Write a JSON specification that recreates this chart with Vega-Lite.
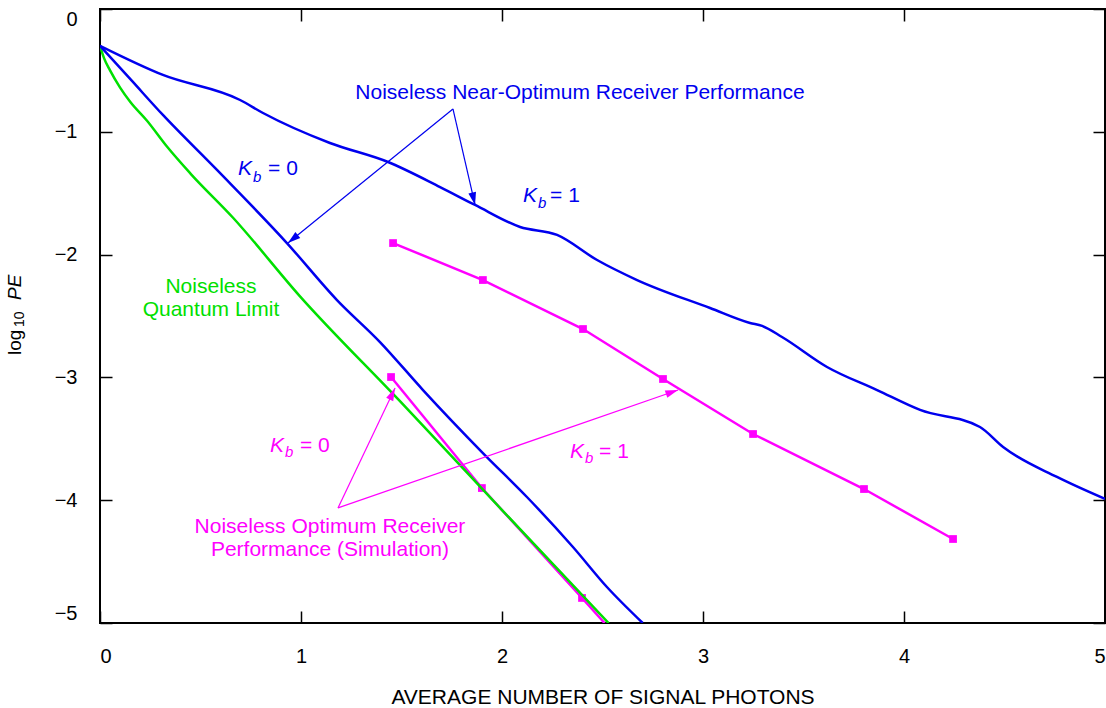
{
  "$schema": "https://vega.github.io/schema/vega-lite/v6.json",
  "width": 1005,
  "height": 614,
  "autosize": {"type": "none"},
  "padding": {"left": 100, "top": 9, "right": 1, "bottom": 85},
  "background": "white",
  "config": {
    "view": {"stroke": "#000", "strokeWidth": 2},
    "font": "Liberation Sans"
  },
  "datasets": {
    "curves": [
      {"curve": "nearK0", "group": "near", "x": 0, "y": -0.30},
      {"curve": "nearK0", "group": "near", "x": 0.158, "y": -0.584},
      {"curve": "nearK0", "group": "near", "x": 0.313, "y": -0.863},
      {"curve": "nearK0", "group": "near", "x": 0.582, "y": -1.311},
      {"curve": "nearK0", "group": "near", "x": 0.93, "y": -1.906},
      {"curve": "nearK0", "group": "near", "x": 1.179, "y": -2.37},
      {"curve": "nearK0", "group": "near", "x": 1.393, "y": -2.712},
      {"curve": "nearK0", "group": "near", "x": 1.607, "y": -3.103},
      {"curve": "nearK0", "group": "near", "x": 1.905, "y": -3.616},
      {"curve": "nearK0", "group": "near", "x": 2.124, "y": -3.974},
      {"curve": "nearK0", "group": "near", "x": 2.353, "y": -4.381},
      {"curve": "nearK0", "group": "near", "x": 2.522, "y": -4.707},
      {"curve": "nearK0", "group": "near", "x": 2.70, "y": -5.0},
      {"curve": "nearK1", "group": "near", "x": 0, "y": -0.30},
      {"curve": "nearK1", "group": "near", "x": 0.313, "y": -0.537},
      {"curve": "nearK1", "group": "near", "x": 0.697, "y": -0.741},
      {"curve": "nearK1", "group": "near", "x": 0.811, "y": -0.847},
      {"curve": "nearK1", "group": "near", "x": 1.144, "y": -1.091},
      {"curve": "nearK1", "group": "near", "x": 1.433, "y": -1.246},
      {"curve": "nearK1", "group": "near", "x": 1.692, "y": -1.45},
      {"curve": "nearK1", "group": "near", "x": 1.866, "y": -1.596},
      {"curve": "nearK1", "group": "near", "x": 2.09, "y": -1.775},
      {"curve": "nearK1", "group": "near", "x": 2.274, "y": -1.84},
      {"curve": "nearK1", "group": "near", "x": 2.473, "y": -2.044},
      {"curve": "nearK1", "group": "near", "x": 2.672, "y": -2.207},
      {"curve": "nearK1", "group": "near", "x": 3.035, "y": -2.435},
      {"curve": "nearK1", "group": "near", "x": 3.234, "y": -2.557},
      {"curve": "nearK1", "group": "near", "x": 3.294, "y": -2.581},
      {"curve": "nearK1", "group": "near", "x": 3.393, "y": -2.671},
      {"curve": "nearK1", "group": "near", "x": 3.617, "y": -2.915},
      {"curve": "nearK1", "group": "near", "x": 3.866, "y": -3.103},
      {"curve": "nearK1", "group": "near", "x": 4.08, "y": -3.265},
      {"curve": "nearK1", "group": "near", "x": 4.378, "y": -3.404},
      {"curve": "nearK1", "group": "near", "x": 4.493, "y": -3.567},
      {"curve": "nearK1", "group": "near", "x": 4.761, "y": -3.811},
      {"curve": "nearK1", "group": "near", "x": 5.0, "y": -3.99},
      {"curve": "quantum", "group": "quantum", "x": 0, "y": -0.30},
      {"curve": "quantum", "group": "quantum", "x": 0.02, "y": -0.40},
      {"curve": "quantum", "group": "quantum", "x": 0.05, "y": -0.50},
      {"curve": "quantum", "group": "quantum", "x": 0.1, "y": -0.64},
      {"curve": "quantum", "group": "quantum", "x": 0.15, "y": -0.755},
      {"curve": "quantum", "group": "quantum", "x": 0.234, "y": -0.91},
      {"curve": "quantum", "group": "quantum", "x": 0.333, "y": -1.12},
      {"curve": "quantum", "group": "quantum", "x": 0.45, "y": -1.34},
      {"curve": "quantum", "group": "quantum", "x": 0.662, "y": -1.70},
      {"curve": "quantum", "group": "quantum", "x": 0.995, "y": -2.34},
      {"curve": "quantum", "group": "quantum", "x": 1.49, "y": -3.19},
      {"curve": "quantum", "group": "quantum", "x": 2.0, "y": -4.08},
      {"curve": "quantum", "group": "quantum", "x": 2.53, "y": -5.0},
      {"curve": "simK1", "group": "sim", "x": 1.458, "y": -1.906},
      {"curve": "simK1", "group": "sim", "x": 1.905, "y": -2.207},
      {"curve": "simK1", "group": "sim", "x": 2.403, "y": -2.606},
      {"curve": "simK1", "group": "sim", "x": 2.801, "y": -3.013},
      {"curve": "simK1", "group": "sim", "x": 3.249, "y": -3.461},
      {"curve": "simK1", "group": "sim", "x": 3.801, "y": -3.909},
      {"curve": "simK1", "group": "sim", "x": 4.244, "y": -4.316},
      {"curve": "simK0", "group": "sim", "x": 1.448, "y": -2.997},
      {"curve": "simK0", "group": "sim", "x": 1.9, "y": -3.901},
      {"curve": "simK0", "group": "sim", "x": 2.398, "y": -4.796},
      {"curve": "simK0", "group": "sim", "x": 2.51, "y": -5.0}
    ],
    "arrows": [
      {"id": "a1", "group": "near", "x": 1.756, "y": -0.814, "x2": 0.935, "y2": -1.906},
      {"id": "a2", "group": "near", "x": 1.756, "y": -0.814, "x2": 1.866, "y2": -1.596},
      {"id": "a3", "group": "sim", "x": 1.184, "y": -4.063, "x2": 1.468, "y2": -3.086},
      {"id": "a4", "group": "sim", "x": 1.184, "y": -4.063, "x2": 2.876, "y2": -3.103}
    ],
    "notes": [
      {"group": "near", "x": 2.388, "y": -0.733, "text": "Noiseless Near-Optimum Receiver Performance"},
      {"group": "quantum", "x": 0.552, "y": -2.313, "text": "Noiseless"},
      {"group": "quantum", "x": 0.552, "y": -2.5, "text": "Quantum Limit"},
      {"group": "sim", "x": 1.144, "y": -4.267, "text": "Noiseless Optimum Receiver"},
      {"group": "sim", "x": 1.144, "y": -4.454, "text": "Performance (Simulation)"}
    ],
    "kMain": [
      {"group": "near", "x": 0.687, "y": -1.352, "text": "K"},
      {"group": "near", "x": 2.104, "y": -1.572, "text": "K"},
      {"group": "sim", "x": 0.846, "y": -3.607, "text": "K"},
      {"group": "sim", "x": 2.338, "y": -3.656, "text": "K"}
    ],
    "kSub": [
      {"group": "near", "x": 0.761, "y": -1.409, "text": "b"},
      {"group": "near", "x": 2.179, "y": -1.621, "text": "b"},
      {"group": "sim", "x": 0.92, "y": -3.648, "text": "b"},
      {"group": "sim", "x": 2.413, "y": -3.697, "text": "b"}
    ],
    "kEq": [
      {"group": "near", "x": 0.836, "y": -1.352, "text": "= 0"},
      {"group": "near", "x": 2.239, "y": -1.572, "text": "= 1"},
      {"group": "sim", "x": 0.995, "y": -3.607, "text": "= 0"},
      {"group": "sim", "x": 2.483, "y": -3.656, "text": "= 1"}
    ]
  },
  "resolve": {"axis": {"x": "independent", "y": "independent"}},
  "layer": [
    {
      "encoding": {
        "x": {
          "field": "x", "type": "quantitative",
          "scale": {"domain": [0, 5], "nice": false, "zero": false},
          "axis": {
            "orient": "bottom", "values": [0, 1, 2, 3, 4, 5], "format": "d",
            "domain": false, "grid": false, "tickSize": -12, "tickWidth": 1.5, "tickColor": "#000",
            "labelPadding": 35, "labelFontSize": 20, "labelFont": "Liberation Sans", "labelColor": "#000",
            "labelFlush": true,
            "title": "AVERAGE NUMBER OF SIGNAL PHOTONS", "titleFont": "Liberation Sans",
            "titleFontSize": 21, "titleFontWeight": "normal", "titleColor": "#000", "titlePadding": 20
          }
        },
        "y": {
          "field": "y", "type": "quantitative",
          "scale": {"domain": [-5, 0], "nice": false, "zero": false},
          "axis": {
            "orient": "left", "values": [0, -1, -2, -3, -4, -5], "format": "d",
            "domain": false, "grid": false, "tickSize": -12, "tickWidth": 1.5, "tickColor": "#000",
            "labelPadding": 35, "labelFontSize": 20, "labelFont": "Liberation Sans", "labelColor": "#000",
            "labelFlush": true, "title": null
          }
        },
        "color": {
          "field": "group", "type": "nominal",
          "scale": {"domain": ["near", "quantum", "sim"], "range": ["#0000ee", "#00e000", "#ff00ff"]},
          "legend": null
        }
      },
      "layer": [
        {
          "data": {"name": "curves"},
          "transform": [{"filter": "datum.group == 'sim'"}],
          "mark": {"type": "line", "strokeWidth": 2.5, "clip": true},
          "encoding": {"detail": {"field": "curve"}}
        },
        {
          "data": {"name": "curves"},
          "transform": [{"filter": "datum.group == 'sim' && datum.y > -4.99"}],
          "mark": {"type": "point", "shape": "square", "filled": true, "opacity": 1, "size": 60, "clip": true}
        },
        {
          "data": {"name": "curves"},
          "transform": [{"filter": "datum.group == 'quantum'"}],
          "mark": {"type": "line", "strokeWidth": 2.5, "clip": true, "interpolate": "monotone"},
          "encoding": {"detail": {"field": "curve"}}
        },
        {
          "data": {"name": "curves"},
          "transform": [{"filter": "datum.group == 'near'"}],
          "mark": {"type": "line", "strokeWidth": 2.5, "clip": true, "interpolate": "monotone"},
          "encoding": {"detail": {"field": "curve"}}
        },
        {
          "data": {"name": "arrows"},
          "mark": {"type": "rule", "strokeWidth": 1.2},
          "encoding": {"x2": {"field": "x2"}, "y2": {"field": "y2"}}
        },
        {
          "data": {"name": "arrows"},
          "transform": [{"filter": "datum.id == 'a1'"}],
          "mark": {"type": "point", "shape": "M0,0L-0.55,1.8L0.55,1.8Z", "filled": true, "opacity": 1, "size": 200, "angle": 231},
          "encoding": {"x": {"field": "x2", "type": "quantitative"}, "y": {"field": "y2", "type": "quantitative"}}
        },
        {
          "data": {"name": "arrows"},
          "transform": [{"filter": "datum.id == 'a2'"}],
          "mark": {"type": "point", "shape": "M0,0L-0.55,1.8L0.55,1.8Z", "filled": true, "opacity": 1, "size": 200, "angle": 167},
          "encoding": {"x": {"field": "x2", "type": "quantitative"}, "y": {"field": "y2", "type": "quantitative"}}
        },
        {
          "data": {"name": "arrows"},
          "transform": [{"filter": "datum.id == 'a3'"}],
          "mark": {"type": "point", "shape": "M0,0L-0.55,1.8L0.55,1.8Z", "filled": true, "opacity": 1, "size": 200, "angle": 25},
          "encoding": {"x": {"field": "x2", "type": "quantitative"}, "y": {"field": "y2", "type": "quantitative"}}
        },
        {
          "data": {"name": "arrows"},
          "transform": [{"filter": "datum.id == 'a4'"}],
          "mark": {"type": "point", "shape": "M0,0L-0.55,1.8L0.55,1.8Z", "filled": true, "opacity": 1, "size": 200, "angle": 71},
          "encoding": {"x": {"field": "x2", "type": "quantitative"}, "y": {"field": "y2", "type": "quantitative"}}
        },
        {
          "data": {"name": "notes"},
          "mark": {"type": "text", "align": "center", "baseline": "alphabetic", "fontSize": 21, "font": "Liberation Sans"},
          "encoding": {"text": {"field": "text"}}
        },
        {
          "data": {"name": "kMain"},
          "mark": {"type": "text", "align": "left", "baseline": "alphabetic", "fontSize": 21, "fontStyle": "italic", "font": "Liberation Sans"},
          "encoding": {"text": {"field": "text"}}
        },
        {
          "data": {"name": "kSub"},
          "mark": {"type": "text", "align": "left", "baseline": "alphabetic", "fontSize": 15, "fontStyle": "italic", "font": "Liberation Sans"},
          "encoding": {"text": {"field": "text"}}
        },
        {
          "data": {"name": "kEq"},
          "mark": {"type": "text", "align": "left", "baseline": "alphabetic", "fontSize": 21, "font": "Liberation Sans"},
          "encoding": {"text": {"field": "text"}}
        },
        {
          "data": {"values": [{"x": -0.393, "y": -2.818, "text": "log"}]},
          "mark": {"type": "text", "align": "left", "baseline": "alphabetic", "fontSize": 19, "angle": 270, "font": "Liberation Sans"},
          "encoding": {"text": {"field": "text"}, "color": {"value": "#000"}}
        },
        {
          "data": {"values": [{"x": -0.378, "y": -2.59, "text": "10"}]},
          "mark": {"type": "text", "align": "left", "baseline": "alphabetic", "fontSize": 14, "angle": 270, "font": "Liberation Sans"},
          "encoding": {"text": {"field": "text"}, "color": {"value": "#000"}}
        },
        {
          "data": {"values": [{"x": -0.393, "y": -2.37, "text": "PE"}]},
          "mark": {"type": "text", "align": "left", "baseline": "alphabetic", "fontSize": 19, "fontStyle": "italic", "angle": 270, "font": "Liberation Sans"},
          "encoding": {"text": {"field": "text"}, "color": {"value": "#000"}}
        }
      ]
    },
    {
      "data": {"name": "arrows"},
      "mark": {"type": "point", "opacity": 0},
      "encoding": {
        "x": {
          "field": "x", "type": "quantitative",
          "scale": {"domain": [0, 5], "nice": false, "zero": false},
          "axis": {"orient": "top", "values": [0, 1, 2, 3, 4, 5], "labels": false, "domain": false, "grid": false,
                   "tickSize": -12, "tickWidth": 1.5, "tickColor": "#000", "title": null}
        },
        "y": {
          "field": "y", "type": "quantitative",
          "scale": {"domain": [-5, 0], "nice": false, "zero": false},
          "axis": {"orient": "right", "values": [0, -1, -2, -3, -4, -5], "labels": false, "domain": false, "grid": false,
                   "tickSize": -12, "tickWidth": 1.5, "tickColor": "#000", "title": null}
        }
      }
    }
  ]
}
